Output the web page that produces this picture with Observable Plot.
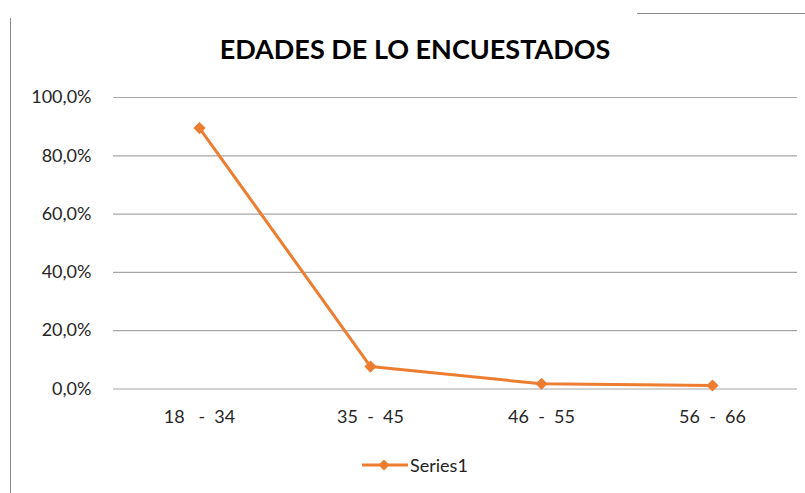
<!DOCTYPE html>
<html>
<head>
<meta charset="utf-8">
<script src="https://cdn.jsdelivr.net/npm/d3@7"></script>
<script src="https://cdn.jsdelivr.net/npm/@observablehq/plot@0.6"></script>
<style>
  html, body { margin: 0; padding: 0; background: #fff; }
  #wrap { position: relative; width: 805px; height: 493px; overflow: hidden; font-family: Lato, "Open Sans", sans-serif; }
  #title { position: absolute; left: 0; width: 830px; top: 32px; text-align: center; font-size: 27px; font-weight: bold; color: #000; }
  #legend { position: absolute; left: 362px; top: 454px; display: flex; align-items: center; font-size: 18px; color: #222; }
  #vline { position: absolute; left: 10px; top: 18px; width: 1px; height: 480px; background: #8c8c8c; }
  #hline { position: absolute; left: 637px; top: 13px; width: 170px; height: 1px; background: #8c8c8c; }
  #chart { position: absolute; left: 0; top: 0; }
</style>
</head>
<body>
<div id="wrap">
  <div id="vline"></div>
  <div id="hline"></div>
  <div id="chart"></div>
  <div id="title">EDADES DE LO ENCUESTADOS</div>
  <div id="legend"></div>
</div>
<script>
const categories = ["18\u00a0\u00a0\u00a0-\u00a0\u00a034", "35\u00a0\u00a0-\u00a0\u00a045", "46\u00a0\u00a0-\u00a0\u00a055", "56\u00a0\u00a0-\u00a0\u00a066"];
const values = [89.5, 7.7, 1.8, 1.2];
const yTicks = [0, 20, 40, 60, 80, 100];
const seriesName = "Series1";
const lineColor = "#ED7D31";

const data = categories.map((c, i) => ({cat: c, val: values[i]}));
const fmt = d => d.toFixed(1).replace(".", ",") + "%";

const chart = Plot.plot({
  width: 805,
  height: 493,
  marginTop: 97,
  marginBottom: 104.5,
  marginLeft: 113,
  marginRight: 8,
  style: {fontFamily: "Lato, 'Open Sans', sans-serif", fontSize: "18px", color: "#333", background: "transparent"},
  x: {type: "point", domain: categories, padding: 0.5, label: null},
  y: {domain: [0, 100], label: null},
  marks: [
    Plot.ruleY(yTicks, {stroke: "#a6a6a6", strokeWidth: 1.2}),
    Plot.axisY({ticks: yTicks, tickFormat: fmt, tickSize: 0, tickPadding: 22, fontSize: 18, fill: "#262626"}),
    Plot.axisX({tickSize: 0, tickPadding: 21, fontSize: 18, fill: "#262626"}),
    Plot.line(data, {x: "cat", y: "val", stroke: lineColor, strokeWidth: 3}),
    Plot.dot(data, {x: "cat", y: "val", symbol: "diamond2", r: 5.5, fill: lineColor, stroke: "none"})
  ]
});
document.getElementById("chart").appendChild(chart);

// legend
const legend = document.getElementById("legend");
const ls = d3.create("svg").attr("width", 46).attr("height", 22);
ls.append("line").attr("x1", 0).attr("x2", 46).attr("y1", 11).attr("y2", 11).attr("stroke", lineColor).attr("stroke-width", 3);
ls.append("path").attr("d", d3.symbol(d3.symbolDiamond2, 80)()).attr("transform", "translate(22,11)").attr("fill", lineColor);
legend.appendChild(ls.node());
const lt = document.createElement("span");
lt.textContent = seriesName;
lt.style.marginLeft = "2px";
legend.appendChild(lt);
</script>
</body>
</html>
